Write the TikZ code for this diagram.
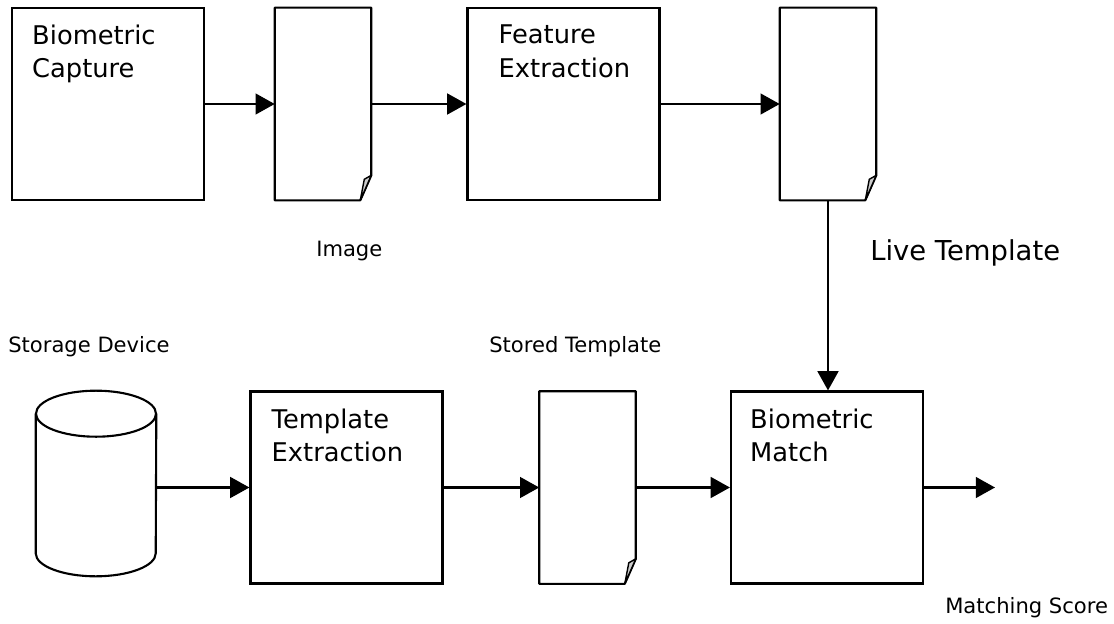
\documentclass[tikz,border=0pt]{standalone}
\usepackage{fontspec}
\setmainfont{DejaVu Sans}
\usetikzlibrary{arrows.meta,calc}
\tikzstyle{process}=[draw,line width=1.5pt,minimum width=4.8cm,minimum height=4.8cm,inner sep=0pt]
\tikzstyle{docpage}=[minimum width=2.4cm,minimum height=4.8cm,inner sep=0pt]
\tikzstyle{storebox}=[minimum width=3cm,minimum height=4.625cm,inner sep=0pt]
\tikzstyle{boxtext}=[anchor=north west,align=left,inner sep=0pt,font=\fontsize{18.3}{23.5}\selectfont]
\tikzstyle{caption}=[anchor=base west,inner sep=0pt,font=\fontsize{15}{18}\selectfont]
\tikzstyle{line}=[draw,line width=1.5pt,line join=round]
\tikzstyle{fold}=[line width=1pt,line join=round,fill=black!20]
\tikzstyle{edge}=[draw,line width=1.5pt,-{Triangle[length=0.48cm,width=0.52cm]}]

\begin{document}
\begin{tikzpicture}[x=0.025cm,y=-0.025cm]

    \useasboundingbox (0,0) rectangle (1114,624);

     \foreach \x/\y/\name in {108/104/capture, 563.5/104/feature, 346.5/487.5/tmplext, 827/487.5/match}
        \node[process] (\name) at (\x,\y) {};

     \foreach \name/\dx/\txt in {capture/21/{Biometric\\Capture}, feature/32/{Feature\\Extraction},
                                 tmplext/22/{Template\\Extraction}, match/20/{Biometric\\Match}}
        \node[boxtext] (\name-text) at ($(\name.north west)+(\dx,18)$) {\txt};

     \foreach \x/\y/\name in {323/104/image, 828/104/live, 587.5/487.5/stored}
        \node[docpage] (\name) at (\x,\y) {};

     \foreach \name in {image, live, stored} {
        \path[line] (\name.south west) -- (\name.north west) -- (\name.north east)
            -- ($(\name.south east)+(0,-25)$) -- ($(\name.south east)+(-11,0)$) -- cycle;
        \filldraw[fold] ($(\name.south east)+(0,-25)$) -- ($(\name.south east)+(-11,0)$)
            -- ($(\name.south east)+(-7,-21)$) -- cycle;
     }

     % storage cylinder
     \node[storebox] (store) at (96,483.5) {};
     \path[line] ($(store.north)+(0,23)$) ellipse [x radius=1.5cm, y radius=0.575cm];
     \path[line] ($(store.north west)+(0,23)$) -- ($(store.south west)+(0,-23)$)
         arc [start angle=180, end angle=360, x radius=1.5cm, y radius=0.575cm]
         -- ($(store.north east)+(0,23)$);

     \coordinate (score) at (995,487.5);

    \foreach \source/ \dest in {capture/image, image/feature, feature/live, tmplext/stored, stored/match, match/score}
        \path[edge] (\source) -- (\dest);

    \path[edge] (store.east |- tmplext) -- (tmplext);
    \path[edge] (live.south) -- (live.south |- match.north);

    \node[caption] (image-label) at (316,256) {Image};
    \node[caption, font=\fontsize{19.5}{22}\selectfont] (live-label) at (870,260) {Live Template};
    \node[caption] (store-label) at (8,352) {Storage Device};
    \node[caption] (stored-label) at (489,352) {Stored Template};
    \node[caption] (score-label) at (945,613) {Matching Score};

   \end{tikzpicture}
\end{document}
